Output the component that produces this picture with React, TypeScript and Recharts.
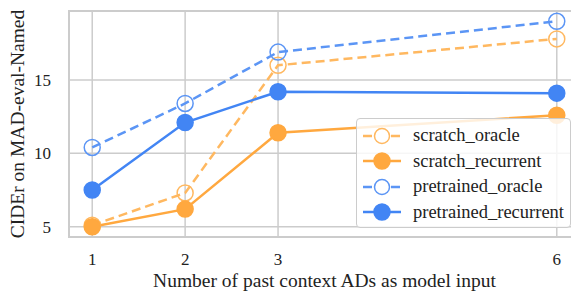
import React from 'react';
import { LineChart, Line, XAxis, YAxis, CartesianGrid, ReferenceArea } from 'recharts';

const contextADs = [1, 2, 3, 6];
const scratchOracle = [5.1, 7.3, 16.0, 17.8];
const scratchRecurrent = [5.0, 6.2, 11.4, 12.6];
const pretrainedOracle = [10.4, 13.4, 16.9, 19.0];
const pretrainedRecurrent = [7.5, 12.1, 14.2, 14.1];
const yTicks = [5, 10, 15];

const ORANGE = '#ffa83f';
const ORANGE_LIGHT = '#ffb860';
const BLUE = '#4285f4';
const BLUE_LIGHT = '#5b95f5';
const GRID = '#cccccc';
const TEXT = '#222';

const series = [
  { key: 'scratch_oracle', color: ORANGE_LIGHT, dashed: true },
  { key: 'scratch_recurrent', color: ORANGE, dashed: false },
  { key: 'pretrained_oracle', color: BLUE_LIGHT, dashed: true },
  { key: 'pretrained_recurrent', color: BLUE, dashed: false },
];

const data = contextADs.map((x, i) => ({
  x,
  scratch_oracle: scratchOracle[i],
  scratch_recurrent: scratchRecurrent[i],
  pretrained_oracle: pretrainedOracle[i],
  pretrained_recurrent: pretrainedRecurrent[i],
}));

const css = `
body { margin: 0; }
.chart-root, .chart-root * { font-family: 'Liberation Serif', serif; }
`;

function LegendBox() {
  return (
    <div
      style={{
        position: 'absolute',
        left: 356,
        top: 118,
        width: 215,
        height: 110,
        boxSizing: 'border-box',
        background: 'rgba(255,255,255,0.82)',
        border: `1px solid ${GRID}`,
        borderRadius: 4,
        paddingTop: 4,
      }}
    >
      {series.map((s) => (
        <div key={s.key} style={{ display: 'flex', alignItems: 'center', height: 25.5 }}>
          <svg width={52} height={20} style={{ marginLeft: 4 }}>
            <line
              x1={2}
              x2={40}
              y1={10}
              y2={10}
              stroke={s.color}
              strokeWidth={2.5}
              strokeDasharray={s.dashed ? '9 5' : undefined}
            />
            <circle
              cx={21}
              cy={10}
              r={s.dashed ? 7.5 : 8}
              fill={s.dashed ? 'white' : s.color}
              stroke={s.color}
              strokeWidth={1.5}
            />
          </svg>
          <span style={{ fontSize: 18.5, color: TEXT, marginLeft: 0 }}>{s.key}</span>
        </div>
      ))}
    </div>
  );
}

export default function App() {
  return (
    <div
      className="chart-root"
      style={{
        position: 'relative',
        width: 571,
        height: 293,
        overflow: 'hidden',
        background: '#fff',
      }}
    >
      <style>{css}</style>
      <LineChart
        width={585}
        height={293}
        data={data}
        margin={{ top: 11, right: 5, left: 0, bottom: 0 }}
      >
        <CartesianGrid stroke={GRID} strokeWidth={1.5} />
        <ReferenceArea
          x1={0.75}
          x2={6.25}
          y1={4.3}
          y2={19.7}
          fill="none"
          stroke={GRID}
          strokeWidth={2}
          ifOverflow="visible"
        />
        <XAxis
          type="number"
          dataKey="x"
          domain={[0.75, 6.25]}
          ticks={contextADs}
          axisLine={false}
          tickLine={false}
          tickMargin={10}
          height={56}
          tick={{ fontSize: 17, fill: TEXT }}
          label={{
            position: 'insideBottom',
            content: (props: any) => {
              const vb = props.viewBox;
              return (
                <text
                  x={vb.x + vb.width / 2}
                  y={287}
                  textAnchor="middle"
                  fontSize={19.5}
                  fill={TEXT}
                >
                  Number of past context ADs as model input
                </text>
              );
            },
          }}
        />
        <YAxis
          type="number"
          domain={[4.3, 19.7]}
          ticks={yTicks}
          axisLine={false}
          tickLine={false}
          tickMargin={12}
          width={69}
          tick={{ fontSize: 17, fill: TEXT }}
          label={{
            position: 'insideLeft',
            content: (props: any) => {
              const vb = props.viewBox;
              const cy = vb.y + vb.height / 2;
              return (
                <text
                  x={17}
                  y={cy}
                  transform={`rotate(-90 17 ${cy})`}
                  textAnchor="middle"
                  dominantBaseline="central"
                  fontSize={19.5}
                  fill={TEXT}
                >
                  CIDEr on MAD-eval-Named
                </text>
              );
            },
          }}
        />
        {series.map((s) => (
          <Line
            key={s.key}
            type="linear"
            dataKey={s.key}
            stroke={s.color}
            strokeWidth={2.5}
            strokeDasharray={s.dashed ? '9 5' : undefined}
            dot={{
              r: 8,
              fill: s.dashed ? 'none' : s.color,
              stroke: s.color,
              strokeWidth: 1.5,
              strokeDasharray: 'none',
            }}
            activeDot={false}
            isAnimationActive={false}
          />
        ))}
      </LineChart>
      <LegendBox />
    </div>
  );
}
